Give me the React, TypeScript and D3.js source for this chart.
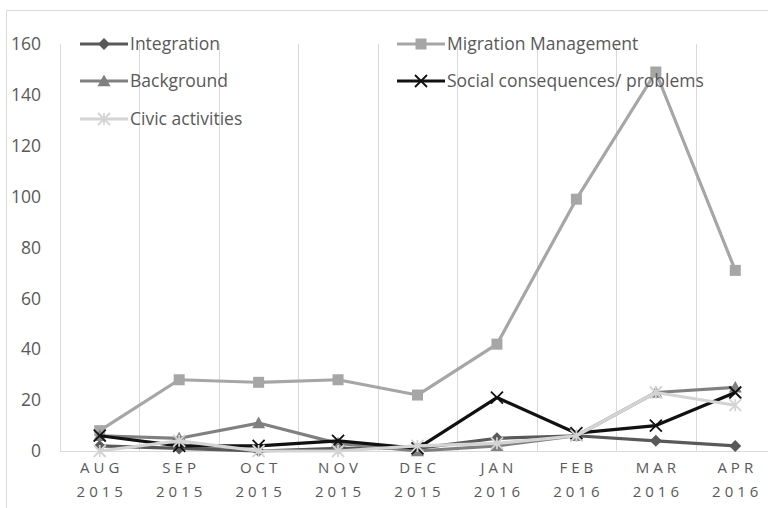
import React from "react";
import * as d3 from "d3";

const months = ["AUG|2015", "SEP|2015", "OCT|2015", "NOV|2015", "DEC|2015", "JAN|2016", "FEB|2016", "MAR|2016", "APR|2016"];
const yTicks = [0, 20, 40, 60, 80, 100, 120, 140, 160];

const integration = [2, 1, 0, 1, 1, 5, 6, 4, 2];
const migration = [8, 28, 27, 28, 22, 42, 99, 149, 71];
const background = [6, 5, 11, 3, 0, 2, 6, 23, 25];
const social = [6, 2, 2, 4, 1, 21, 7, 10, 23];
const civic = [0, 4, 0, 0, 2, 3, 6, 23, 18];

const seriesNames = ["Integration", "Migration Management", "Background", "Social consequences/ problems", "Civic activities"];
const seriesData = [integration, migration, background, social, civic];
const seriesColors = ["#595959", "#a6a6a6", "#808080", "#111111", "#d4d4d4"];
const seriesMarkers = ["diamond", "square", "triangle", "x", "star"];

const W = 768, H = 508;
const x = d3.scaleBand<string>().domain(months).range([60, 775]);
const y = d3.scaleLinear().domain([0, 160]).range([451, 44]);

function Marker({ type, cx, cy, color }: { type: string; cx: number; cy: number; color: string }) {
  if (type === "diamond") {
    const s = 6;
    return <path d={`M${cx},${cy - s}L${cx + s},${cy}L${cx},${cy + s}L${cx - s},${cy}Z`} fill={color} />;
  }
  if (type === "square") {
    const s = 5.5;
    return <rect x={cx - s} y={cy - s} width={2 * s} height={2 * s} fill={color} />;
  }
  if (type === "triangle") {
    const s = 6.5;
    return <path d={`M${cx},${cy - s}L${cx + s},${cy + s * 0.8}L${cx - s},${cy + s * 0.8}Z`} fill={color} />;
  }
  if (type === "x") {
    const s = 6;
    return <path d={`M${cx - s},${cy - s}L${cx + s},${cy + s}M${cx - s},${cy + s}L${cx + s},${cy - s}`} stroke={color} strokeWidth={1.8} fill="none" />;
  }
  const s = 6;
  return <path d={`M${cx - s},${cy - s}L${cx + s},${cy + s}M${cx - s},${cy + s}L${cx + s},${cy - s}M${cx},${cy - s}L${cx},${cy + s}`} stroke={color} strokeWidth={1.8} fill="none" />;
}

export default function App() {
  const line = d3.line<number>().x((_, i) => (x(months[i]) as number) + x.bandwidth() / 2).y((d) => y(d));
  const font = "'Open Sans', sans-serif";
  const legendPos = [
    [80, 44], [397, 44], [80, 81], [397, 81], [80, 119],
  ];
  return (
    <svg width={W} height={H} style={{ position: "absolute", left: 0, top: 0, background: "#fff" }}>
      <rect x={0} y={0} width={W} height={H} fill="#fff" />
      <path d={`M6.5,${H}V10.5H${W}`} fill="none" stroke="#d9d9d9" strokeWidth={1} />
      {months.map((m) => (
        <line key={m} x1={Math.round(x(m) as number) + 0.5} x2={Math.round(x(m) as number) + 0.5} y1={y(160)} y2={y(0)} stroke="#d9d9d9" strokeWidth={1} />
      ))}
      <line x1={60} x2={W} y1={y(0) + 0.5} y2={y(0) + 0.5} stroke="#d9d9d9" strokeWidth={1} />
      {yTicks.map((t) => (
        <text key={t} x={41} y={y(t)} dy="0.35em" textAnchor="end" fontFamily={font} fontSize={17.5} fill="#595959">{t}</text>
      ))}
      {months.map((m) => {
        const [a, b] = m.split("|");
        const cx = (x(m) as number) + x.bandwidth() / 2;
        return (
          <g key={m} fontFamily={font} fontSize={15} fill="#595959" textAnchor="middle" letterSpacing={4}>
            <text x={cx + 2} y={473}>{a}</text>
            <text x={cx + 2} y={497}>{b}</text>
          </g>
        );
      })}
      {seriesData.map((data, si) => (
        <g key={seriesNames[si]}>
          <path d={line(data) || ""} fill="none" stroke={seriesColors[si]} strokeWidth={3.2} strokeLinejoin="round" />
          {data.map((v, i) => (
            <Marker key={i} type={seriesMarkers[si]} cx={(x(months[i]) as number) + x.bandwidth() / 2} cy={y(v)} color={seriesColors[si]} />
          ))}
        </g>
      ))}
      {seriesNames.map((n, si) => {
        const [lx, ly] = legendPos[si];
        return (
          <g key={n}>
            <line x1={lx} x2={lx + 48} y1={ly} y2={ly} stroke={seriesColors[si]} strokeWidth={3.2} />
            <Marker type={seriesMarkers[si]} cx={lx + 24} cy={ly} color={seriesColors[si]} />
            <text x={lx + 50} y={ly} dy="0.35em" fontFamily={font} fontSize={17.5} fill="#595959" textLength={undefined}>{n}</text>
          </g>
        );
      })}
    </svg>
  );
}
